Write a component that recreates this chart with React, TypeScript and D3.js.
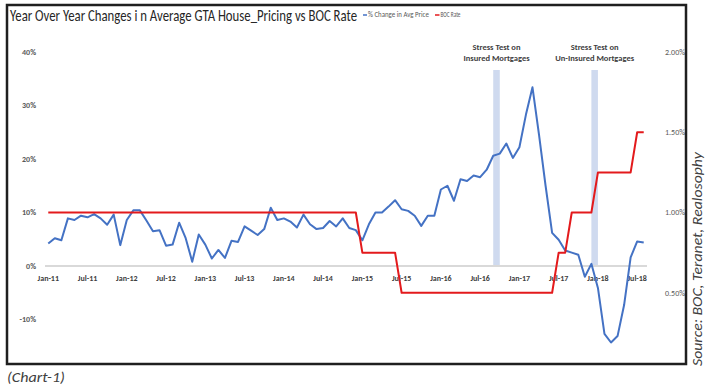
import React, { useLayoutEffect, useRef, useState } from "react";
import * as d3 from "d3";

// ---- data ----
const months: string[] = d3
  .timeMonths(new Date(2011, 0, 1), new Date(2018, 8, 1))
  .map((d) => d3.timeFormat("%b-%y")(d));

const priceChange: number[] = [
  4.2, 5.2, 4.8, 8.9, 8.6, 9.4, 9.1, 9.7, 8.9, 7.7, 9.6, 3.9,
  8.6, 10.4, 10.4, 8.5, 6.5, 6.7, 3.8, 4.0, 8.1, 5.2, 0.8, 5.9,
  4.0, 1.4, 3.0, 1.5, 4.7, 4.5, 7.4, 6.6, 5.8, 6.9, 10.9, 8.6,
  8.9, 8.3, 7.2, 9.6, 7.8, 6.9, 7.1, 8.4, 7.4, 8.9, 7.1, 6.7,
  4.8, 7.8, 10.0, 10.0, 11.1, 12.3, 10.6, 10.3, 9.4, 7.5, 9.4, 9.4,
  14.3, 15.0, 12.2, 16.2, 15.9, 16.9, 16.6, 18.0, 20.6, 21.0, 22.9, 20.2,
  22.2, 28.3, 33.4, 24.5, 15.0, 6.2, 4.9, 2.9, 2.5, 2.1, -2.0, 0.4,
  -4.1, -12.7, -14.3, -13.1, -7.3, 1.6, 4.6, 4.4,
];

const bocRate: number[] = [
  1.0, 1.0, 1.0, 1.0, 1.0, 1.0, 1.0, 1.0, 1.0, 1.0, 1.0, 1.0,
  1.0, 1.0, 1.0, 1.0, 1.0, 1.0, 1.0, 1.0, 1.0, 1.0, 1.0, 1.0,
  1.0, 1.0, 1.0, 1.0, 1.0, 1.0, 1.0, 1.0, 1.0, 1.0, 1.0, 1.0,
  1.0, 1.0, 1.0, 1.0, 1.0, 1.0, 1.0, 1.0, 1.0, 1.0, 1.0, 1.0,
  0.75, 0.75, 0.75, 0.75, 0.75, 0.75, 0.5, 0.5, 0.5, 0.5, 0.5, 0.5,
  0.5, 0.5, 0.5, 0.5, 0.5, 0.5, 0.5, 0.5, 0.5, 0.5, 0.5, 0.5,
  0.5, 0.5, 0.5, 0.5, 0.5, 0.5, 0.75, 0.75, 1.0, 1.0, 1.0, 1.0,
  1.25, 1.25, 1.25, 1.25, 1.25, 1.25, 1.5, 1.5,
];

const leftTicks: number[] = [-10, 0, 10, 20, 30, 40];
const rightTicks: number[] = [0.5, 1.0, 1.5, 2.0];
const xTickLabels: string[] = months.filter((_, i) => i % 6 === 0);

const bandFrom: string[] = ["Sep-16", "Dec-17"];
const bandTo: string[] = ["Oct-16", "Jan-18"];
const bandLabels: string[][] = [
  ["Stress Test on", "Insured Mortgages"],
  ["Stress Test on", "Un-Insured Mortgages"],
];

const legendLabels: string[] = ["% Change in Avg Price", "BOC Rate"];
const BLUE = "#4472c4";
const RED = "#e31a1c";

const FONT = "Carlito, Calibri, Lato, 'Open Sans', sans-serif";

// Text scaled horizontally (via transform) to fit a target width
function FitText(props: {
  x: number;
  y: number;
  width: number;
  rotate?: number;
  fontSize: number;
  fill: string;
  fontStyle?: string;
  children: string;
}) {
  const ref = useRef<SVGTextElement>(null);
  const [k, setK] = useState(1);
  useLayoutEffect(() => {
    if (ref.current) {
      const w = ref.current.getComputedTextLength();
      if (w > 0) setK(props.width / w);
    }
  }, [props.width, props.children]);
  const rot = props.rotate ? ` rotate(${props.rotate})` : "";
  return (
    <text
      ref={ref}
      transform={`translate(${props.x},${props.y})${rot} scale(${k},1)`}
      fontSize={props.fontSize}
      fill={props.fill}
      fontStyle={props.fontStyle}
    >
      {props.children}
    </text>
  );
}

export default function App() {
  const W = 713;
  const H = 391;
  const x = d3.scaleBand<string>().domain(months).range([45, 647]).padding(0);
  const cx = (m: string) => (x(m) as number) + x.bandwidth() / 2;
  const yL = d3.scaleLinear().domain([-20, 40]).range([373, 52]);
  const yR = d3.scaleLinear().domain([0, 2]).range([373, 52]);

  const blueLine = d3
    .line<number>()
    .x((_, i) => cx(months[i]))
    .y((d) => yL(d));
  const redLine = d3
    .line<number>()
    .x((_, i) => cx(months[i]))
    .y((d) => yR(d));

  return (
    <svg
      width={W}
      height={H}
      style={{ position: "absolute", left: 0, top: 0, background: "#fff" }}
      fontFamily={FONT}
    >
      <defs>
        <clipPath id="frameClip">
          <rect x={8} y={6} width={677} height={357} />
        </clipPath>
      </defs>
      <rect x={0} y={0} width={W} height={H} fill="#fff" />

      {/* title */}
      <FitText x={10} y={21} width={347} fontSize={16.5} fill="#262626">
        Year Over Year Changes i n Average GTA House_Pricing vs BOC Rate
      </FitText>

      {/* legend */}
      <line x1={363} x2={367} y1={15} y2={15} stroke={BLUE} strokeWidth={1.5} />
      <FitText x={368} y={17.4} width={61} fontSize={7} fill="#595959">
        {legendLabels[0]}
      </FitText>
      <line x1={435} x2={439.5} y1={15} y2={15} stroke={RED} strokeWidth={1.5} />
      <FitText x={440.5} y={17.4} width={20} fontSize={7} fill="#595959">
        {legendLabels[1]}
      </FitText>

      <g clipPath="url(#frameClip)">
        {/* bands */}
        {bandFrom.map((f, i) => (
          <rect
            key={i}
            x={cx(f)}
            width={cx(bandTo[i]) - cx(f)}
            y={70}
            height={yL(0) - 70}
            fill="#cfdaef"
          />
        ))}

        {/* zero axis line */}
        <line x1={45} x2={647} y1={yL(0)} y2={yL(0)} stroke="#d9d9d9" strokeWidth={2} />

        {/* left tick labels */}
        {leftTicks.map((t) => (
          <text
            key={t}
            x={36}
            y={yL(t)}
            dy="0.35em"
            textAnchor="end"
            fontSize={8}
            fontWeight="bold"
            fill="#595959"
          >
            {t}%
          </text>
        ))}

        {/* right tick labels */}
        {rightTicks.map((t) => (
          <text
            key={t}
            x={665}
            y={yR(t)}
            dy="0.35em"
            textAnchor="start"
            fontSize={8}
            fill="#595959"
          >
            {d3.format(".2f")(t)}%
          </text>
        ))}

        {/* x tick labels */}
        {xTickLabels.map((m) => (
          <text
            key={m}
            x={cx(m)}
            y={278}
            dy="0.35em"
            textAnchor="middle"
            fontSize={8}
            fontWeight="bold"
            fill="#404040"
          >
            {m}
          </text>
        ))}

        {/* annotations */}
        {bandFrom.map((f, i) => {
          const mid = (cx(f) + cx(bandTo[i])) / 2;
          return (
            <g key={i} fontSize={8.5} fontWeight="bold" fill="#404040" textAnchor="middle">
              {bandLabels[i].map((l, j) => (
                <text key={j} x={mid} y={46.7 + j * 11.8} dy="0.35em">
                  {l}
                </text>
              ))}
            </g>
          );
        })}

        {/* lines */}
        <path d={blueLine(priceChange) || ""} fill="none" stroke={BLUE} strokeWidth={2} strokeLinejoin="round" />
        <path d={redLine(bocRate) || ""} fill="none" stroke={RED} strokeWidth={2} strokeLinejoin="round" />
      </g>

      {/* frame */}
      <rect x={7} y={5} width={679} height={359} fill="none" stroke="#1f1f1f" strokeWidth={2.5} />

      {/* source */}
      <FitText x={702} y={366} rotate={-90} width={214} fontSize={14} fontStyle="italic" fill="#404040">
        Source: BOC, Teranet, Realosophy
      </FitText>

      {/* chart number */}
      <FitText x={7} y={382} width={58} fontSize={14} fontStyle="italic" fill="#404040">
        (Chart-1)
      </FitText>
    </svg>
  );
}
